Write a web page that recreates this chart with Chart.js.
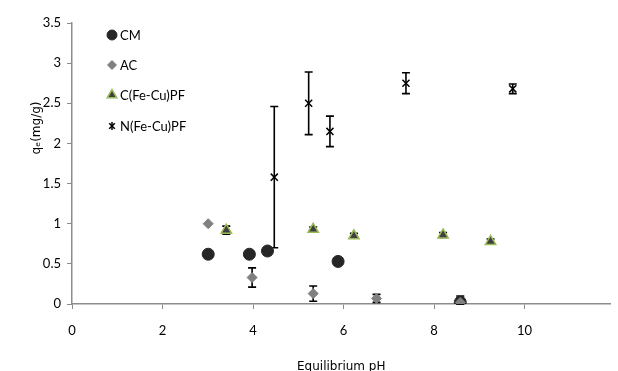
<!DOCTYPE html>
<html>
<head>
<meta charset="utf-8">
<script src="https://cdn.jsdelivr.net/npm/chart.js@4"></script>
<style>
  body { margin: 0; background: #fff; }
  #wrap { width: 618px; height: 371px; }
</style>
</head>
<body>
<div id="wrap"><canvas id="chart" width="618" height="371"></canvas></div>
<script>
// pH values and qe values
const cmPH = [3.01, 3.92, 4.32, 5.88, 8.58];
const cmQe = [0.62, 0.62, 0.66, 0.53, 0.02];
const cmErr = [0, 0, 0, 0, 0.08];

const acPH = [3.01, 3.98, 5.33, 6.73, 8.58];
const acQe = [1.00, 0.33, 0.13, 0.07, 0.02];
const acErr = [0, 0.12, 0.095, 0.05, 0.06];

const cpfPH = [3.41, 5.33, 6.23, 8.20, 9.25];
const cpfQe = [0.92, 0.93, 0.85, 0.86, 0.78];
const cpfErr = [0.05, 0.03, 0.03, 0.03, 0.03];

const npfPH = [4.47, 5.23, 5.70, 7.38, 9.74];
const npfQe = [1.58, 2.50, 2.15, 2.75, 2.68];
const npfErr = [0.88, 0.39, 0.19, 0.13, 0.06];

const xTicks = [0, 2, 4, 6, 8, 10];
const yTicks = [0, 0.5, 1, 1.5, 2, 2.5, 3, 3.5];

const toPoints = (xs, ys) => xs.map((x, i) => ({ x: x, y: ys[i] }));

// error bars, drawn through the chart's own scales
const errorBars = {
    id: 'errorBars',
    beforeDatasetsDraw(chart) {
        const { ctx, scales: { x, y } } = chart;
        ctx.save();
        ctx.strokeStyle = '#000';
        ctx.lineWidth = 1.6;
        chart.data.datasets.forEach(ds => {
            (ds.err || []).forEach((e, i) => {
                if (!e) return;
                const px = x.getPixelForValue(ds.data[i].x);
                const top = y.getPixelForValue(ds.data[i].y + e);
                const bot = y.getPixelForValue(Math.max(ds.data[i].y - e, 0));
                ctx.beginPath();
                ctx.moveTo(px, top); ctx.lineTo(px, bot);
                ctx.moveTo(px - 4, top); ctx.lineTo(px + 4, top);
                ctx.moveTo(px - 4, bot); ctx.lineTo(px + 4, bot);
                ctx.stroke();
            });
        });
        ctx.restore();
    }
};

// legend inside the plot plus the y axis title
const extras = {
    id: 'extras',
    afterDraw(chart) {
        const { ctx } = chart;
        ctx.save();
        const rows = [35, 65, 95, 126];
        chart.data.datasets.forEach((ds, i) => {
            const opts = {
                pointStyle: ds.pointStyle,
                radius: ds.legendRadius,
                borderWidth: ds.pointBorderWidth
            };
            ctx.fillStyle = ds.pointBackgroundColor;
            ctx.strokeStyle = ds.pointBorderColor;
            ctx.lineWidth = ds.pointBorderWidth;
            Chart.helpers.drawPoint(ctx, opts, 112, rows[i]);
            if (ds.pointStyle === 'crossRot') {
                ctx.beginPath();
                ctx.moveTo(112, rows[i] - 4); ctx.lineTo(112, rows[i] + 4);
                ctx.stroke();
            }
            ctx.fillStyle = '#000';
            ctx.font = '13px Lato';
            ctx.textBaseline = 'middle';
            ctx.textAlign = 'left';
            ctx.fillText(ds.label, 120, rows[i] + 1);
        });
        ctx.translate(37, 128);
        ctx.rotate(-Math.PI / 2);
        ctx.font = '12px "DejaVu Sans"';
        ctx.textAlign = 'center';
        ctx.textBaseline = 'middle';
        ctx.fillStyle = '#000';
        ctx.fillText('qₑ(mg/g)', 0, 0);
        ctx.restore();
    }
};

new Chart(document.getElementById('chart'), {
    type: 'scatter',
    data: {
        datasets: [
            {
                label: 'CM', data: toPoints(cmPH, cmQe), err: cmErr, order: 2,
                pointStyle: 'circle', pointRadius: 6, legendRadius: 5,
                pointBackgroundColor: '#262626', pointBorderColor: '#262626', pointBorderWidth: 1
            },
            {
                label: 'AC', data: toPoints(acPH, acQe), err: acErr, order: 1,
                pointStyle: 'rectRot', pointRadius: 5, legendRadius: 4.5,
                pointBackgroundColor: '#808080', pointBorderColor: '#808080', pointBorderWidth: 1
            },
            {
                label: 'C(Fe-Cu)PF', data: toPoints(cpfPH, cpfQe), err: cpfErr, order: 1,
                pointStyle: 'triangle', pointRadius: 6, legendRadius: 5.5,
                pointBackgroundColor: '#404040', pointBorderColor: '#9bbb59', pointBorderWidth: 1.5
            },
            {
                label: 'N(Fe-Cu)PF', data: toPoints(npfPH, npfQe), err: npfErr, order: 1,
                pointStyle: 'crossRot', pointRadius: 5, legendRadius: 4,
                pointBackgroundColor: '#000', pointBorderColor: '#000', pointBorderWidth: 1.5
            }
        ]
    },
    options: {
        responsive: false,
        animation: false,
        layout: { padding: { top: 23, right: 0, left: 0, bottom: 0 } },
        plugins: {
            legend: { display: false },
            tooltip: { enabled: false }
        },
        scales: {
            x: {
                type: 'linear',
                min: 0,
                max: 11.9,
                afterFit(scale) { scale.height = 67; },
                afterBuildTicks(scale) { scale.ticks = xTicks.map(v => ({ value: v })); },
                border: { display: true, color: '#8c8c8c', width: 1.5 },
                grid: { drawOnChartArea: false, drawTicks: true, tickLength: 5, color: '#8c8c8c' },
                ticks: { color: '#000', font: { family: 'Lato', size: 13 }, padding: 14 },
                title: {
                    display: true,
                    text: 'Equilibrium pH',
                    color: '#000',
                    font: { family: 'DejaVu Sans', size: 12 },
                    padding: { top: 0, bottom: -3 }
                }
            },
            y: {
                min: 0,
                max: 3.5,
                afterFit(scale) { scale.width = 72; },
                afterBuildTicks(scale) { scale.ticks = yTicks.map(v => ({ value: v })); },
                border: { display: true, color: '#8c8c8c', width: 1.5 },
                grid: { drawOnChartArea: false, drawTicks: true, tickLength: 5, color: '#8c8c8c' },
                ticks: {
                    color: '#000',
                    font: { family: 'Lato', size: 13 },
                    padding: 6,
                    callback: v => String(v)
                }
            }
        }
    },
    plugins: [errorBars, extras]
});
</script>
</body>
</html>
